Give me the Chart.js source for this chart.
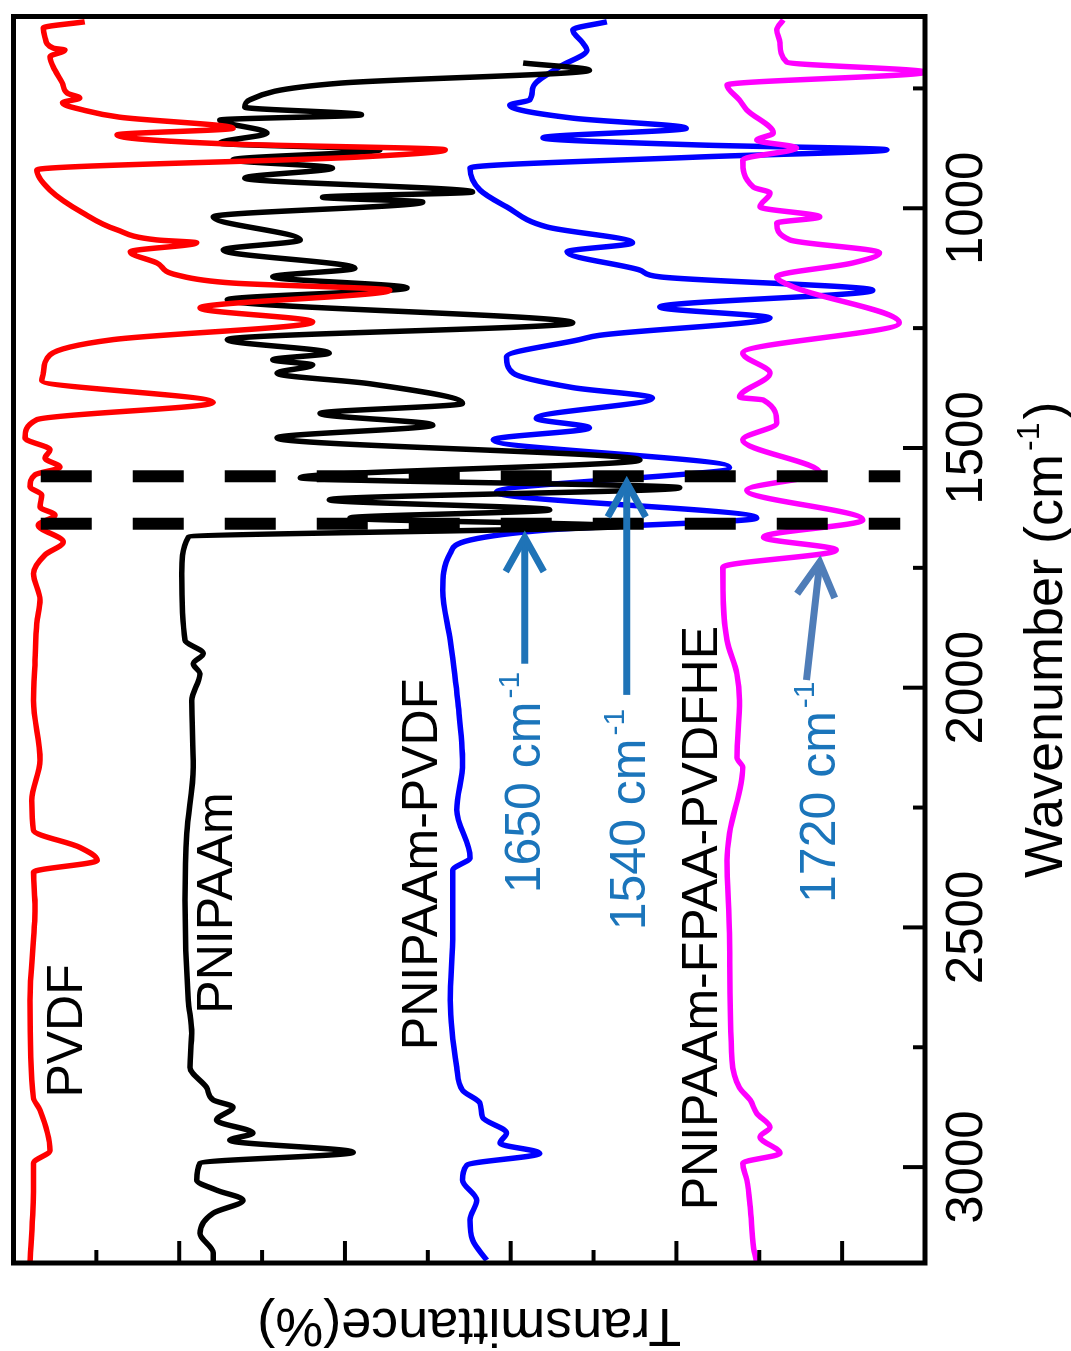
<!DOCTYPE html>
<html><head><meta charset="utf-8">
<script src="https://cdn.jsdelivr.net/npm/chart.js@4.4.1/dist/chart.umd.min.js"></script>
<style>
html,body{margin:0;padding:0;background:#fff;overflow:hidden;width:1071px;height:1351px;}
#wrap{position:absolute;left:0;top:0;width:1351px;height:1071px;transform-origin:0 0;transform:translate(0,1351px) rotate(-90deg);background:#fff;}
</style></head><body>
<div id="wrap"><canvas id="c" width="1351" height="1071"></canvas></div>
<script>
const FONT = "'Liberation Sans', Arial, Helvetica, sans-serif";

// ---- data: wavenumber (cm-1) and transmittance (offset, %) ----
const seriesNames = ['PVDF','PNIPAAm','PNIPAAm-PVDF','PNIPAAm-FPAA-PVDFHE'];
const seriesColors = ['#ff0000','#000000','#0000ff','#ff00ff'];

const pvdfWn = [611,624,643,666,670,684,712,739,760,770,780,795,810,833,847,866,878,893,920,962,1010,1045,1066,1072,1091,1114,1139,1156,1171,1208,1237,1274,1306,1344,1359,1405,1441,1479,1504,1521,1540,1556,1581,1598,1623,1640,1661,1696,1723,1762,1817,1866,1942,2027,2151,2235,2297,2333,2360,2385,2458,2652,2855,2881,2965,2992,3042,3200];
const pvdfT  = [91.4,96.4,96.2,95.2,93.8,95.6,95.0,94.1,93.5,92.0,94.1,91.6,87.2,73.5,87.5,73.9,47.9,58.2,97.2,95.6,91.6,87.5,82.7,77.9,85.9,82.7,80.3,73.5,54.6,77.5,63.9,88.0,95.6,96.4,96.6,75.9,97.2,98.6,95.6,96.2,94.4,97.4,98.0,96.6,96.8,95.0,97.0,94.0,96.2,97.6,96.8,97.2,97.4,97.6,96.8,97.8,97.6,92.0,89.9,97.6,97.4,98.0,97.6,96.8,95.6,97.6,97.6,98.0];

const pnipaamWn = [697,712,739,774,789,805,816,843,864,878,899,916,937,966,977,987,1018,1066,1087,1125,1143,1166,1191,1239,1274,1302,1316,1327,1344,1366,1407,1428,1452,1479,1525,1562,1583,1608,1629,1646,1663,1686,1762,1901,1929,1950,1971,2027,2166,2304,2443,2652,2721,2792,2834,2860,2875,2902,2929,2944,2969,2992,3027,3048,3069,3096,3138,3179,3200];
const pnipaamT  = [38.5,30.5,60.6,71.5,72.1,58.0,75.1,69.4,75.1,55.8,73.5,61.5,72.1,44.6,62.7,50.6,75.9,65.4,74.7,58.8,68.7,52.5,74.2,32.5,74.2,61.9,68.7,63.9,68.2,57.0,45.8,63.0,49.4,68.2,24.4,65.4,19.6,61.9,35.3,59.4,26.8,78.9,79.7,79.3,77.1,78.3,77.5,78.5,78.3,79.1,79.3,78.9,78.5,78.7,76.7,75.9,73.5,75.5,71.1,73.9,59.0,77.5,77.9,75.5,72.3,75.9,77.5,75.9,75.9];

const pvdfBlendWn = [611,628,655,670,705,747,774,785,812,833,853,868,878,893,916,962,997,1039,1072,1091,1129,1143,1171,1206,1229,1265,1274,1310,1344,1374,1396,1438,1458,1483,1540,1592,1646,1671,1692,1720,1797,1901,2027,2158,2255,2354,2381,2512,2652,2792,2840,2867,2896,2929,2950,2971,2996,3027,3069,3110,3152,3194];
const pvdfBlendT  = [28.4,32.5,31.3,30.8,34.1,37.3,37.7,40.1,32.5,18.8,36.1,17.2,-5.4,17.2,44.9,43.7,40.5,35.6,25.3,33.2,24.4,22.0,-3.7,22.0,8.7,29.3,31.7,40.5,39.7,32.5,22.9,36.9,30.5,42.1,13.6,41.7,10.3,35.6,44.9,47.3,48.2,47.3,46.4,45.8,46.5,44.9,47.0,47.0,47.3,46.5,45.8,43.7,43.4,40.5,41.3,36.5,45.3,45.8,44.1,44.9,44.6,42.9];

const fpaaWn = [607,628,655,695,716,743,774,795,843,858,874,899,956,968,997,1018,1031,1066,1093,1114,1143,1164,1239,1302,1344,1394,1400,1448,1483,1552,1588,1650,1686,1713,1749,1901,1971,2027,2146,2166,2304,2360,2512,2777,2834,2860,2888,2917,2937,2971,2992,3027,3083,3167,3200];
const fpaaT  = [7.1,7.9,7.5,6.7,-10,13.9,12.4,11.5,8.3,10.3,5.5,12.0,10.7,8.7,9.9,2.7,7.9,6.3,-4.5,-1.3,7.9,5.9,-6.9,12.0,8.7,12.4,9.5,7.9,12.0,2.7,11.5,-2.5,9.5,0.7,14.4,13.9,12.7,12.4,12.7,12.0,13.6,13.9,13.6,13.3,12.4,11.1,10.3,8.7,9.9,7.5,12.0,11.5,11.1,10.7,10.3];

// axis ticks
const xTickLabels = [1000,1500,2000,2500,3000];
const xTickMarks = [750,1000,1250,1500,1750,2000,2250,2500,2750,3000];
const yTickMarks = [0,10,20,30,40,50,60,70,80,90];

// marker lines (dashed) at band positions
const dashWn = [1559,1658];
const dashTTop = 96.7, dashTBottom = -7.0;

// annotations
const annText  = ['PVDF','PNIPAAm','PNIPAAm-PVDF','PNIPAAm-FPAA-PVDFHE','1650 cm','1540 cm','1720 cm'];
const annSup   = ['','','','','-1','-1','-1'];
const annWn    = [2855,2680,2756,3090,2429,2506,2449];
const annT     = [91.7,73.6,48.9,15.1,36.5,23.8,0.9];
const annColor = ['#000','#000','#000','#000','#1b75bb','#1b75bb','#1b75bb'];

const arrowFromWn = [1950,2015,1984];
const arrowToWn   = [1687,1573,1738];
const arrowFromT  = [38.3,26.0,4.3];
const arrowToT    = [38.3,26.0,2.7];
const arrowColor  = ['#1f73b7','#1f73b7','#4f7db8'];

function pts(wn, t){ return wn.map((w,i)=>({x:w, y:t[i]})); }

const curves = [
  {wn:pvdfWn, t:pvdfT, order:1},
  {wn:pnipaamWn, t:pnipaamT, order:3},
  {wn:pvdfBlendWn, t:pvdfBlendT, order:4},
  {wn:fpaaWn, t:fpaaT, order:2}
];

const datasets = curves.map((c,i)=>({
  label: seriesNames[i],
  data: pts(c.wn, c.t),
  borderColor: seriesColors[i],
  borderWidth: 5.5,
  pointRadius: 0,
  fill: false,
  cubicInterpolationMode: 'monotone',
  order: c.order
}));
dashWn.forEach(w=>{
  datasets.push({
    label: 'band ' + w,
    data: [{x:w, y:dashTTop},{x:w, y:dashTBottom}],
    borderColor: '#000',
    borderWidth: 12,
    borderDash: [51,41],
    borderCapStyle: 'butt',
    pointRadius: 0,
    tension: 0,
    fill: false,
    order: 0
  });
});

function drawSupText(ctx, x, yb, base, sup, tail, size, color){
  ctx.fillStyle = color;
  ctx.textBaseline = 'alphabetic';
  ctx.textAlign = 'left';
  ctx.font = size + 'px ' + FONT;
  ctx.fillText(base, x, yb);
  let cx = x + ctx.measureText(base).width;
  if (sup){
    const s = Math.round(size*0.6);
    ctx.font = s + 'px ' + FONT;
    ctx.fillText(sup, cx + 3, yb - size*0.42);
    cx += ctx.measureText(sup).width + 6;
  }
  if (tail){
    ctx.font = size + 'px ' + FONT;
    ctx.fillText(tail, cx, yb);
  }
}
function measureSup(ctx, base, sup, tail, size){
  ctx.font = size + 'px ' + FONT;
  let w = ctx.measureText(base).width + (tail ? ctx.measureText(tail).width : 0);
  if (sup){ ctx.font = Math.round(size*0.6) + 'px ' + FONT; w += ctx.measureText(sup).width + 6; }
  return w;
}

const decor = {
  id: 'decor',
  afterDraw(chart){
    const ctx = chart.ctx, a = chart.chartArea, x = chart.scales.x, y = chart.scales.y;
    ctx.save();
    ctx.strokeStyle = '#000';
    ctx.lineCap = 'butt';
    ctx.lineWidth = 4;
    xTickMarks.forEach(v=>{
      const px = x.getPixelForValue(v), L = (v % 500 === 0) ? 22 : 12;
      ctx.beginPath(); ctx.moveTo(px, a.bottom); ctx.lineTo(px, a.bottom - L); ctx.stroke();
    });
    yTickMarks.forEach(v=>{
      const py = y.getPixelForValue(v), L = (v % 20 === 0) ? 22 : 13;
      ctx.beginPath(); ctx.moveTo(a.left, py); ctx.lineTo(a.left + L, py); ctx.stroke();
    });
    ctx.lineWidth = 5;
    ctx.strokeRect(a.left, a.top, a.right - a.left, a.bottom - a.top);

    // arrows
    arrowFromWn.forEach((w,i)=>{
      const x0 = x.getPixelForValue(w), y0 = y.getPixelForValue(arrowFromT[i]);
      const x1 = x.getPixelForValue(arrowToWn[i]), y1 = y.getPixelForValue(arrowToT[i]);
      const ang = Math.atan2(y1-y0, x1-x0);
      ctx.strokeStyle = arrowColor[i];
      ctx.lineWidth = 7;
      ctx.lineCap = 'butt';
      ctx.lineJoin = 'miter';
      ctx.beginPath(); ctx.moveTo(x0,y0); ctx.lineTo(x1 - 3*Math.cos(ang), y1 - 3*Math.sin(ang)); ctx.stroke();
      const back = 34, half = 19;
      const bx = x1 - back*Math.cos(ang), by = y1 - back*Math.sin(ang);
      ctx.beginPath();
      ctx.moveTo(bx - half*Math.sin(ang), by + half*Math.cos(ang));
      ctx.lineTo(x1, y1);
      ctx.lineTo(bx + half*Math.sin(ang), by - half*Math.cos(ang));
      ctx.stroke();
    });

    // annotations
    annText.forEach((t,i)=>{
      drawSupText(ctx, x.getPixelForValue(annWn[i]), y.getPixelForValue(annT[i]), t, annSup[i], '', 50, annColor[i]);
    });

    // x axis title
    const size = 54;
    const w = measureSup(ctx, 'Wavenumber (cm', '-1', ')', size);
    const cx = (a.left + a.right)/2;
    drawSupText(ctx, cx - w/2, 1062, 'Wavenumber (cm', '-1', ')', size, '#000');
    ctx.restore();
  }
};

new Chart(document.getElementById('c'), {
  type: 'line',
  data: { datasets },
  options: {
    responsive: false,
    animation: false,
    devicePixelRatio: 1,
    layout: { padding: { left: 0, top: 13.5, right: 16.5, bottom: 0 } },
    plugins: { legend: { display: false }, tooltip: { enabled: false } },
    scales: {
      x: {
        type: 'linear', min: 600, max: 3200, reverse: true, position: 'bottom',
        afterFit(s){ s.height = 146; },
        afterBuildTicks(s){ s.ticks = xTickLabels.map(v=>({value:v})); },
        grid: { display: false, drawTicks: false },
        border: { display: false },
        ticks: { padding: 17, color: '#000', maxRotation: 0, autoSkip: false,
                 callback: v => String(v),
                 font: { family: FONT, size: 51, lineHeight: 1 } },
        title: { display: false }
      },
      y: {
        type: 'linear', min: -10, max: 100, position: 'left',
        afterFit(s){ s.width = 88; },
        grid: { display: false, drawTicks: false },
        border: { display: false },
        ticks: { display: false },
        title: { display: true, text: 'Transmittance(%)', color: '#000', padding: 0,
                 font: { family: FONT, size: 54, lineHeight: 1 } }
      }
    }
  },
  plugins: [decor]
});
</script>
</body></html>
